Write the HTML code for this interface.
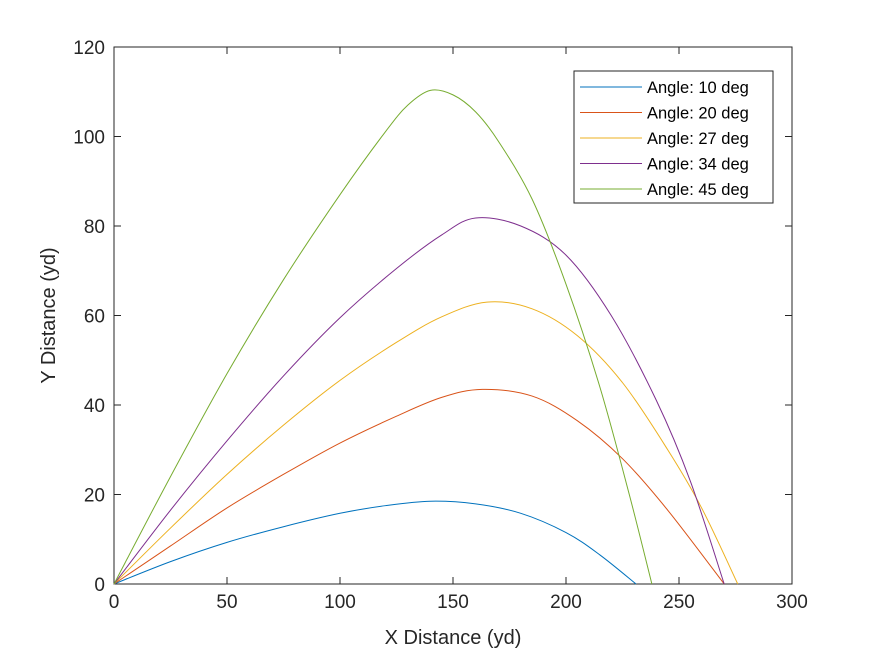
<!DOCTYPE html>
<html><head><meta charset="utf-8"><style>
body{margin:0;background:#fff;}
svg{font-family:"Liberation Sans",Arial,sans-serif;}
</style></head><body>
<svg id="chart" width="875" height="656" viewBox="0 0 875 656">
<rect x="0" y="0" width="875" height="656" fill="#fff"/>
<g id="plot"></g>
</svg>
<script>
const seriesNames = ["Angle: 10 deg","Angle: 20 deg","Angle: 27 deg","Angle: 34 deg","Angle: 45 deg"];
const colors = ["#0072BD","#D95319","#EDB120","#7E2F8E","#77AC30"];
const x10 = [0,25,50,75,100,120,140,160,180,200,215,231];
const y10 = [0,5,9.3,12.8,15.8,17.5,18.5,17.9,15.8,11.5,6.5,0];
const x20 = [0,25,50,75,100,125,145,163,185,205,225,245,270];
const y20 = [0,8.5,17,24.5,31.5,37.5,41.7,43.5,42,36.5,28,16.5,0];
const x27 = [0,25,50,75,100,125,145,165,185,205,225,245,260,276];
const y27 = [0,12.5,24.5,35.5,45.5,54,59.7,63,61.5,55.5,45,30,17,0];
const x34 = [0,25,50,75,100,125,145,160,180,200,220,240,255,270];
const y34 = [0,16.5,32,46.5,59.5,70.5,78,81.8,80,73.5,60,41,23,0];
const x45 = [0,25,50,75,100,120,130,140,150,160,170,185,200,215,228,238];
const y45 = [0,24,47,68,87,101,107,110.3,109.3,105.5,99,86,67,44,20,0];
const xTicks = [0,50,100,150,200,250,300];
const yTicks = [0,20,40,60,80,100,120];

const L=114,R=792,T=47,B=584;
const sx=v=>L+(v-0)/(300-0)*(R-L);
const sy=v=>B-(v-0)/(120-0)*(B-T);
const NS="http://www.w3.org/2000/svg";
const g=document.getElementById('plot');
function mk(tag,attrs,parent){const e=document.createElementNS(NS,tag);for(const k in attrs)e.setAttribute(k,attrs[k]);(parent||g).appendChild(e);return e;}

const box=mk('rect',{x:L,y:T,width:R-L,height:B-T,fill:'none',stroke:'#262626','stroke-width':1});



xTicks.forEach(t=>{
  const X=sx(t);
  const l=mk('path',{d:`M${X},${B}V${B-7}M${X},${T}V${T+7}`,stroke:'#262626','stroke-width':1});
  
  
  const tx=mk('text',{x:X,y:B+24,'text-anchor':'middle','font-size':19,fill:'#262626'});
  tx.textContent=t;
  
  
});
yTicks.forEach(t=>{
  const Y=sy(t);
  const l=mk('path',{d:`M${L},${Y}H${L+7}M${R},${Y}H${R-7}`,stroke:'#262626','stroke-width':1});
  
  
  const tx=mk('text',{x:L-9,y:Y+7,'text-anchor':'end','font-size':19,fill:'#262626'});
  tx.textContent=t;
  
  
});
const xt=mk('text',{x:(L+R)/2,y:644,'text-anchor':'middle','font-size':20,fill:'#262626'});
xt.textContent='X Distance (yd)';


const yt=mk('text',{x:0,y:0,'text-anchor':'middle','font-size':20,fill:'#262626',transform:`translate(55,${(T+B)/2}) rotate(-90)`});
yt.textContent='Y Distance (yd)';



function smooth(xs,ys){
  const p=xs.map((x,i)=>[sx(x),sy(ys[i])]);
  let d=`M${p[0][0]},${p[0][1]}`;
  for(let i=0;i<p.length-1;i++){
    const p0=p[i-1]||p[i],p1=p[i],p2=p[i+1],p3=p[i+2]||p[i+1];
    const c1=[p1[0]+(p2[0]-p0[0])/6,p1[1]+(p2[1]-p0[1])/6];
    const c2=[p2[0]-(p3[0]-p1[0])/6,p2[1]-(p3[1]-p1[1])/6];
    d+=`C${c1[0]},${c1[1]} ${c2[0]},${c2[1]} ${p2[0]},${p2[1]}`;
  }
  return d;
}
const data=[[x10,y10],[x20,y20],[x27,y27],[x34,y34],[x45,y45]];
data.forEach((s,i)=>{
  const p=mk('path',{d:smooth(s[0],s[1]),fill:'none',stroke:colors[i],'stroke-width':1});
  
  
});

const lg=mk('g',{});


mk('rect',{x:574,y:71,width:199,height:132,fill:'#fff',stroke:'#262626','stroke-width':1},lg);
seriesNames.forEach((n,i)=>{
  const Y=87+i*25.5;
  const ln=mk('line',{x1:580,y1:Y,x2:642,y2:Y,stroke:colors[i],'stroke-width':1},lg);
  
  
  const t=mk('text',{x:647,y:Y+6,'font-size':16.5,fill:'#000'},lg);
  t.textContent=n;
  
  
});
</script>
</body></html>
